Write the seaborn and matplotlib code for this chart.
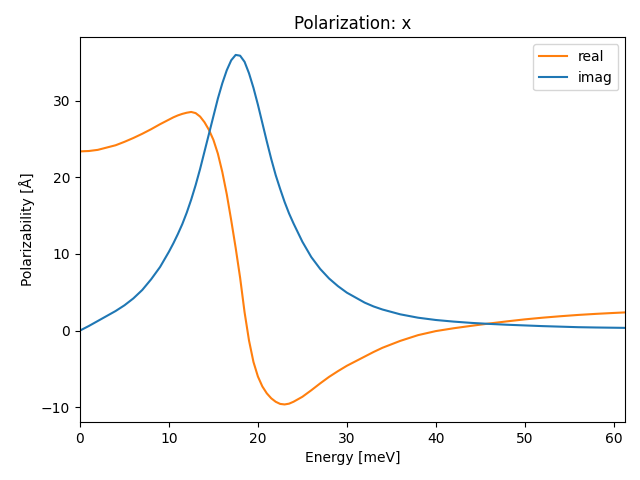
import matplotlib
matplotlib.use("Agg")
import matplotlib.pyplot as plt
import seaborn as sns
import pandas as pd

energy = [0, 1, 2, 3, 4, 5, 6, 7, 8, 9, 10, 10.5, 11, 11.5, 12, 12.5, 13, 13.5,
          14, 14.5, 15, 15.5, 16, 16.5, 17, 17.5, 18, 18.5, 19, 19.5, 20, 20.5,
          21, 21.5, 22, 22.5, 23, 23.5, 24, 25, 26, 27, 28, 29, 30, 31, 32, 33,
          34, 36, 38, 40, 42, 44, 46, 48, 50, 52, 54, 56, 58, 60, 61.3]

real = [23.4, 23.45, 23.6, 23.9, 24.2, 24.65, 25.15, 25.7, 26.3, 26.95, 27.55,
        27.85, 28.1, 28.3, 28.45, 28.55, 28.4, 27.95, 27.2, 26.2, 24.9, 23.1,
        20.7, 17.8, 14.4, 10.8, 6.9, 2.4, -1.3, -4.1, -6.0, -7.3, -8.2, -8.85,
        -9.3, -9.58, -9.65, -9.55, -9.3, -8.65, -7.8, -6.9, -6.05, -5.3, -4.6,
        -4.0, -3.4, -2.8, -2.25, -1.35, -0.6, -0.07, 0.3, 0.62, 0.92, 1.2, 1.46,
        1.68, 1.87, 2.04, 2.18, 2.3, 2.37]

imag = [0.0, 0.6, 1.25, 1.9, 2.55, 3.3, 4.2, 5.3, 6.7, 8.3, 10.3, 11.4, 12.6,
        13.9, 15.4, 17.1, 19.0, 21.1, 23.4, 25.7, 28.0, 30.3, 32.3, 34.0, 35.3,
        36.0, 35.9, 35.1, 33.6, 31.7, 29.5, 27.1, 24.7, 22.4, 20.3, 18.5, 16.8,
        15.3, 14.0, 11.6, 9.6, 8.05, 6.8, 5.8, 4.95, 4.3, 3.65, 3.15, 2.75, 2.12,
        1.68, 1.38, 1.17, 1.0, 0.87, 0.76, 0.67, 0.58, 0.51, 0.44, 0.4, 0.37,
        0.35]

df = pd.DataFrame({"energy": energy, "real": real, "imag": imag})

fig, ax = plt.subplots(figsize=(6.4, 4.8), dpi=100)
sns.lineplot(data=df, x="energy", y="real", ax=ax, color="#ff7f0e", label="real")
sns.lineplot(data=df, x="energy", y="imag", ax=ax, color="#1f77b4", label="imag")
ax.set_xlim(min(energy), max(energy))
ax.set_title("Polarization: x")
ax.set_xlabel("Energy [meV]")
ax.set_ylabel("Polarizability [Å]")
ax.legend(loc="upper right")
fig.subplots_adjust(left=0.125, right=0.977, top=0.922, bottom=0.121)
fig.savefig("out.png")
